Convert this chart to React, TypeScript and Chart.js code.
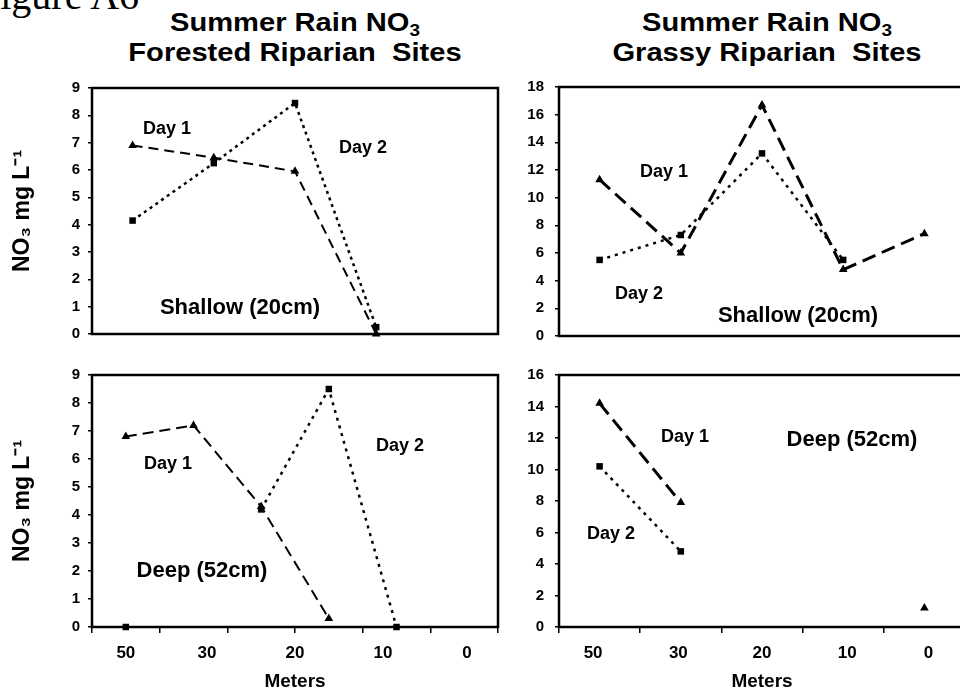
import React, { useEffect, useRef } from "react";
import { Chart, registerables } from "chart.js";
Chart.register(...registerables);

const FONT = "'Liberation Sans', Arial, Helvetica, sans-serif";

// ---- data ----
const meterLabels = ["50", "30", "20", "10", "0"];

// Forested, shallow (20cm)
const forestShallowX = [0, 1, 2, 3];
const forestShallowDay1 = [6.9, 6.45, 5.95, 0.0];
const forestShallowDay2 = [4.15, 6.25, 8.45, 0.25];

// Grassy, shallow (20cm)
const grassShallowX = [0, 1, 2, 3, 4];
const grassShallowDay1 = [11.3, 6.0, 16.7, 4.8, 7.4];
const grassShallowDay2 = [5.5, 7.3, 13.2, 5.5, null];

// Forested, deep (52cm)
const forestDeepX = [0, 1, 2, 3, 4];
const forestDeepDay1 = [6.8, 7.2, 4.3, 0.3, null];
const forestDeepDay2 = [0, null, 4.2, 8.5, 0];
const forestDeepLabelPos = [0, 1.2, 2.5, 3.8, 5.04];

// Grassy, deep (52cm)
const grassDeepX = [0, 1, 2, 3, 4];
const grassDeepDay1 = [14.2, 7.9, null, null, 1.2];
const grassDeepDay2 = [10.2, 4.8, null, null, null];
const grassDeepLabelPos = [-0.08, 0.97, 2.0, 3.05, 4.05];

const boxPlugin = {
  id: "panelBox",
  beforeDatasetsDraw(chart: any) {
    const { ctx, chartArea: a } = chart;
    ctx.save();
    ctx.strokeStyle = "#000";
    ctx.lineWidth = 2.5;
    ctx.strokeRect(a.left, a.top, a.right - a.left, a.bottom - a.top);
    ctx.restore();
  },
};

const zeroPad = (s: any) => {
  s.paddingTop = 0;
  s.paddingBottom = 0;
  s.paddingLeft = 0;
  s.paddingRight = 0;
};

type PanelProps = {
  left: number;
  top: number;
  width: number;
  height: number;
  padding: { top: number; right: number; bottom: number; left: number };
  yMax: number;
  yStep: number;
  yWidth: number;
  yPad: number;
  yTitle?: string;
  slots: number;
  xs: number[];
  day1: (number | null)[];
  day2: (number | null)[];
  dash1: number[];
  lw1: number;
  dash2: number[];
  lw2: number;
  labelPos?: number[];
};

function Panel(p: PanelProps) {
  const ref = useRef<HTMLCanvasElement>(null);
  useEffect(() => {
    if (!ref.current) return;
    const xMin = -0.5;
    const xMax = p.slots - 0.5;
    const boundaries: number[] = [];
    for (let i = 0; i <= p.slots; i++) boundaries.push(i - 0.5);

    const scales: any = {
      y: {
        type: "linear",
        min: 0,
        max: p.yMax,
        afterFit: (s: any) => {
          s.width = p.yWidth;
          zeroPad(s);
        },
        ticks: {
          stepSize: p.yStep,
          color: "#000",
          padding: p.yPad,
          font: { family: FONT, weight: "bold", size: 15 },
        },
        grid: { drawOnChartArea: false, tickLength: 4, color: "#000", lineWidth: 1.5 },
        border: { display: false },
        title: p.yTitle
          ? {
              display: true,
              text: p.yTitle,
              color: "#000",
              font: { family: FONT, weight: "bold", size: 23 },
              padding: { top: 9, bottom: 0 },
            }
          : { display: false },
      },
      x: {
        type: "linear",
        min: xMin,
        max: xMax,
        display: !!p.labelPos,
        weight: 0,
        afterBuildTicks: (s: any) => {
          s.ticks = boundaries.map((v) => ({ value: v }));
        },
        afterFit: (s: any) => {
          s.height = 6;
          zeroPad(s);
        },
        ticks: { display: false },
        grid: { drawOnChartArea: false, tickLength: 6, color: "#000", lineWidth: 1.5 },
        border: { display: false },
      },
    };
    if (p.labelPos) {
      const lp = p.labelPos;
      scales.xl = {
        type: "linear",
        axis: "x",
        position: "bottom",
        min: xMin,
        max: xMax,
        weight: 1,
        afterBuildTicks: (s: any) => {
          s.ticks = lp.map((v) => ({ value: v }));
        },
        afterFit: (s: any) => {
          s.height = 63;
          zeroPad(s);
        },
        ticks: {
          color: "#000",
          padding: 10,
          autoSkip: false,
          maxRotation: 0,
          font: { family: FONT, weight: "bold", size: 17 },
          callback: (_v: any, i: number) => meterLabels[i],
        },
        grid: { display: false, drawTicks: false },
        border: { display: false },
        title: {
          display: true,
          text: "Meters",
          color: "#000",
          font: { family: FONT, weight: "bold", size: 19 },
          padding: { top: 0, bottom: 3 },
        },
      };
    }

    const chart = new Chart(ref.current, {
      type: "line",
      data: {
        datasets: [
          {
            label: "Day 1",
            data: p.xs.map((x, i) => ({ x, y: p.day1[i] })) as any,
            borderColor: "#000",
            backgroundColor: "#000",
            borderWidth: p.lw1,
            borderDash: p.dash1,
            pointStyle: "triangle",
            pointRadius: 5,
            pointBorderWidth: 0,
            tension: 0,
            spanGaps: false,
            clip: false as any,
          },
          {
            label: "Day 2",
            data: p.xs.map((x, i) => ({ x, y: p.day2[i] })) as any,
            borderColor: "#000",
            backgroundColor: "#000",
            borderWidth: p.lw2,
            borderDash: p.dash2,
            pointStyle: "rect",
            pointRadius: 4.6,
            pointBorderWidth: 0,
            tension: 0,
            spanGaps: false,
            clip: false as any,
          },
        ],
      },
      options: {
        animation: false,
        responsive: false,
        devicePixelRatio: 1,
        layout: { padding: p.padding },
        plugins: { legend: { display: false }, tooltip: { enabled: false }, title: { display: false } },
        scales,
      },
      plugins: [boxPlugin],
    });
    return () => chart.destroy();
  }, []);
  return (
    <canvas
      ref={ref}
      width={p.width}
      height={p.height}
      style={{ position: "absolute", left: p.left, top: p.top, width: p.width, height: p.height }}
    />
  );
}

function Txt(props: { x: number; y: number; size: number; children: React.ReactNode; sx?: number }) {
  return (
    <div
      style={{
        position: "absolute",
        left: props.x,
        top: props.y,
        transform: `translate(-50%, -50%) scaleX(${props.sx ?? 1})`,
        font: `bold ${props.size}px ${FONT}`,
        whiteSpace: "pre",
        color: "#000",
        lineHeight: 1,
      }}
    >
      {props.children}
    </div>
  );
}

const subStyle: React.CSSProperties = { fontSize: "0.65em", verticalAlign: "-0.3em", lineHeight: 0 };

function Title(props: { x: number; line2: string }) {
  return (
    <div
      style={{
        position: "absolute",
        left: props.x,
        top: 7,
        transform: "translateX(-50%) scaleX(1.12)",
        textAlign: "center",
        font: `bold 26px ${FONT}`,
        lineHeight: "30px",
        whiteSpace: "pre",
        color: "#000",
      }}
    >
      Summer Rain NO<sub style={subStyle}>3</sub>
      <br />
      {props.line2}
    </div>
  );
}

export default function App() {
  return (
    <div
      style={{
        position: "fixed",
        left: 0,
        top: 0,
        width: 960,
        height: 696,
        overflow: "hidden",
        background: "#fff",
      }}
    >
      <div
        style={{
          position: "absolute",
          left: -22,
          top: -24,
          fontFamily: "'Liberation Serif', 'Times New Roman', serif",
          fontSize: 40,
          lineHeight: "40px",
          whiteSpace: "pre",
          color: "#000",
        }}
      >
        Figure A6
      </div>
      <Title x={295} line2={"Forested Riparian  Sites"} />
      <Title x={767} line2={"Grassy Riparian  Sites"} />

      <Panel
        left={0}
        top={80}
        width={510}
        height={270}
        padding={{ top: 8, right: 12, bottom: 10, left: 0 }}
        yMax={9}
        yStep={1}
        yWidth={92}
        yPad={8}
        yTitle={"NO₃ mg L⁻¹"}
        slots={5}
        xs={forestShallowX}
        day1={forestShallowDay1}
        day2={forestShallowDay2}
        dash1={[10, 6]}
        lw1={2}
        dash2={[3, 4]}
        lw2={2.5}
      />
      <Panel
        left={480}
        top={80}
        width={490}
        height={270}
        padding={{ top: 7, right: 4, bottom: 8, left: 0 }}
        yMax={18}
        yStep={2}
        yWidth={79}
        yPad={11}
        slots={5}
        xs={grassShallowX}
        day1={grassShallowDay1}
        day2={grassShallowDay2}
        dash1={[14, 7]}
        lw1={3}
        dash2={[3, 5]}
        lw2={2.5}
      />
      <Panel
        left={0}
        top={360}
        width={510}
        height={336}
        padding={{ top: 15, right: 12, bottom: 0, left: 0 }}
        yMax={9}
        yStep={1}
        yWidth={92}
        yPad={8}
        yTitle={"NO₃ mg L⁻¹"}
        slots={6}
        xs={forestDeepX}
        day1={forestDeepDay1}
        day2={forestDeepDay2}
        dash1={[11, 6]}
        lw1={2}
        dash2={[3, 5]}
        lw2={2.5}
        labelPos={forestDeepLabelPos}
      />
      <Panel
        left={480}
        top={360}
        width={490}
        height={336}
        padding={{ top: 15, right: 4, bottom: 0, left: 0 }}
        yMax={16}
        yStep={2}
        yWidth={79}
        yPad={11}
        slots={5}
        xs={grassDeepX}
        day1={grassDeepDay1}
        day2={grassDeepDay2}
        dash1={[14, 7]}
        lw1={3}
        dash2={[3, 5]}
        lw2={2.5}
        labelPos={grassDeepLabelPos}
      />

      <Txt x={167} y={128} size={18}>Day 1</Txt>
      <Txt x={363} y={147} size={18}>Day 2</Txt>
      <Txt x={240} y={307} size={22}>Shallow (20cm)</Txt>

      <Txt x={664} y={171} size={18}>Day 1</Txt>
      <Txt x={639} y={293} size={18}>Day 2</Txt>
      <Txt x={798} y={315} size={22}>Shallow (20cm)</Txt>

      <Txt x={168} y={463} size={18}>Day 1</Txt>
      <Txt x={400} y={445} size={18}>Day 2</Txt>
      <Txt x={202} y={570} size={22}>Deep (52cm)</Txt>

      <Txt x={685} y={436} size={18}>Day 1</Txt>
      <Txt x={611} y={533} size={18}>Day 2</Txt>
      <Txt x={852} y={439} size={22}>Deep (52cm)</Txt>
    </div>
  );
}
